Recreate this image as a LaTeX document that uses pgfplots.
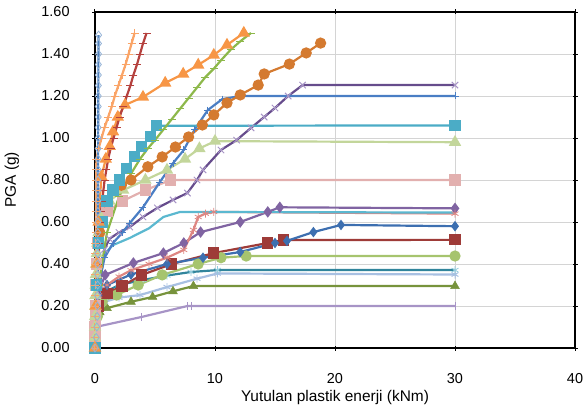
\documentclass[border=0pt]{standalone}
\usepackage{pgfplots}
\pgfplotsset{compat=1.18}
\usepackage{fontspec}
\setmainfont{Liberation Sans}
\usetikzlibrary{plotmarks}
\definecolor{cBlue}{HTML}{4F81BD}
\definecolor{cLBlue}{HTML}{95B3D7}
\definecolor{cLOrange}{HTML}{FAA467}
\definecolor{cDRed}{HTML}{B5413E}
\definecolor{cOrange}{HTML}{F79646}
\definecolor{cGreen}{HTML}{8DB84A}
\definecolor{cAqua}{HTML}{4BACC6}
\definecolor{cDOrange}{HTML}{D47A30}
\definecolor{cBlue2}{HTML}{4A7EC4}
\definecolor{cPurpleD}{HTML}{664C8C}
\definecolor{cLGreen}{HTML}{C3D69B}
\definecolor{cPink}{HTML}{E2B0AF}
\definecolor{cCyan}{HTML}{5BB8D0}
\definecolor{cSalmon}{HTML}{DE8682}
\definecolor{cPurple}{HTML}{8064A2}
\definecolor{cBlueD}{HTML}{3D6FB0}
\definecolor{cRedD}{HTML}{9E3B38}
\definecolor{cGreenL}{HTML}{A6C46E}
\definecolor{cTealD}{HTML}{31859C}
\definecolor{cLBlue2}{HTML}{A8C0E2}
\definecolor{cOlive}{HTML}{77933C}
\definecolor{cLav}{HTML}{A794C6}
\begin{document}
\begin{tikzpicture}
\begin{axis}[name=ax, scale only axis, width=480bp, height=336bp,
  xmin=0, xmax=40, ymin=0, ymax=1.6,
  xtick={0,10,20,30,40}, ytick={0,0.2,0.4,0.6,0.8,1.0,1.2,1.4,1.6},
  grid=major, major grid style={draw=black!17, line width=0.8pt},
  axis line style={line width=1.4pt},
  tick style={black, line width=1pt}, major tick length=5bp, tick align=center,
  yticklabel style={/pgf/number format/fixed, /pgf/number format/fixed zerofill, /pgf/number format/precision=2},
  /pgf/number format/assume math mode=true,
  ticklabel style={font=\fontsize{14.5}{16}\selectfont},
  label style={font=\fontsize{15.5}{17}\selectfont},
  xticklabel style={anchor=center, yshift=-28bp},
  yticklabel style={anchor=center, xshift=-37bp},
  xlabel={Yutulan plastik enerji (kNm)}, ylabel={PGA (g)},
  xlabel style={at={(axis description cs:0.5,0)}, anchor=center, yshift=-50bp},
  ylabel style={at={(axis description cs:-0.173,0.5)}, anchor=center},
  every axis plot/.append style={line width=2.2pt},
]
% lavender |
\addplot[cLav, mark=|, mark size=4bp, mark options={line width=1pt}] coordinates {(0,0)(0.05,0.10)(3.9,0.148)(7.7,0.20)(8.0,0.20)(30,0.20)};
% olive triangles
\addplot[cOlive, mark=triangle*, mark size=5bp, mark options={line width=0.5pt}] coordinates {(0,0)(0.1,0.12)(0.4,0.17)(1.0,0.19)(3.0,0.22)(4.8,0.243)(6.5,0.27)(8.2,0.295)(30,0.295)};
% light blue asterisks
\addplot[cLBlue2, mark=asterisk, mark size=4bp, mark options={line width=1pt}] coordinates {(0,0)(0.2,0.15)(0.8,0.22)(2.0,0.24)(3.75,0.252)(6.0,0.29)(8.5,0.33)(10.2,0.355)(30,0.35)};
% dark teal asterisks
\addplot[cTealD, mark=asterisk, mark size=4bp, mark options={line width=0.8pt,draw=cAqua!60}] coordinates {(0,0)(0.2,0.2)(0.6,0.26)(2.0,0.30)(4.0,0.324)(6.0,0.345)(8.0,0.362)(10.2,0.371)(30,0.371)};
% light green circles
\addplot[cGreenL, mark=*, mark size=4.5bp] coordinates {(0,0)(0.2,0.15)(0.6,0.22)(1.8,0.252)(3.6,0.30)(5.6,0.348)(8.6,0.40)(10.5,0.43)(12.6,0.438)(30,0.438)};
% dark red squares
\addplot[cRedD, mark=square*, mark size=4.5bp] coordinates {(0,0)(0.3,0.2)(1.0,0.26)(2.25,0.295)(3.9,0.348)(6.4,0.40)(9.9,0.452)(14.4,0.50)(15.7,0.514)(30,0.515)};
% dark blue diamonds
\addplot[cBlueD, mark=diamond*, mark size=3.5bp] coordinates {(0,0)(0.3,0.25)(1.0,0.30)(3.0,0.35)(6.0,0.40)(9.0,0.43)(12.1,0.457)(15.0,0.50)(16.0,0.51)(18.2,0.552)(20.5,0.586)(30,0.58)};
% purple diamonds
\addplot[cPurple, mark=diamond*, mark size=4bp] coordinates {(0,0)(0.2,0.25)(0.85,0.348)(3.2,0.405)(5.7,0.452)(7.4,0.50)(8.8,0.552)(12.1,0.60)(14.4,0.648)(15.4,0.67)(30,0.665)};
% salmon asterisks
\addplot[cSalmon, mark=asterisk, mark size=4bp, mark options={line width=0.8pt}] coordinates {(0,0)(0.3,0.25)(1.0,0.30)(2.0,0.34)(3.0,0.37)(4.5,0.40)(6.0,0.43)(7.4,0.467)(8.2,0.562)(8.6,0.624)(9.2,0.64)(9.9,0.648)(30,0.64)};
% cyan no marks
\addplot[cCyan, no markers] coordinates {(0,0)(0.3,0.3)(0.8,0.45)(1.5,0.49)(2.9,0.524)(4.5,0.57)(5.7,0.624)(7.1,0.648)(30,0.645)};
% pink squares
\addplot[cPink, mark=square*, mark size=4.5bp] coordinates {(0,0)(0,0.05)(0,0.1)(0.02,0.15)(0.03,0.2)(0.05,0.3)(0.1,0.4)(0.2,0.5)(0.5,0.6)(1.0,0.65)(2.3,0.70)(4.2,0.752)(6.3,0.80)(30,0.80)};
% light green triangles
\addplot[cLGreen, mark=triangle*, mark size=5bp] coordinates {(0,0)(0,0.05)(0,0.1)(0,0.15)(0.02,0.2)(0.03,0.25)(0.05,0.3)(0.07,0.35)(0.1,0.4)(0.15,0.45)(0.2,0.5)(0.3,0.55)(0.5,0.62)(1.2,0.70)(2.35,0.752)(4.2,0.80)(6.0,0.848)(7.5,0.9)(8.7,0.95)(10.0,0.985)(30,0.98)};
% purple x
\addplot[cPurpleD, mark=x, mark size=4.5bp, mark options={draw=cLav,line width=1pt}] coordinates {(0,0)(0.4,0.3)(0.8,0.47)(1.2,0.52)(2.0,0.55)(2.9,0.576)(4.0,0.624)(5.2,0.667)(6.5,0.705)(7.7,0.738)(8.5,0.80)(9.0,0.848)(10.5,0.943)(11.8,0.99)(13.0,1.048)(14.1,1.10)(15.0,1.143)(16.1,1.20)(17.3,1.252)(30,1.252)};
% blue with dashes
\addplot[cBlue2, mark=+, mark size=3.5bp, mark options={line width=1pt}] coordinates {(0,0)(0.3,0.3)(0.8,0.43)(1.5,0.5)(2.3,0.55)(2.9,0.595)(4.0,0.67)(5.4,0.79)(6.5,0.88)(7.4,0.943)(8.3,1.04)(9.4,1.133)(10.6,1.185)(12.1,1.20)(30,1.20)};
% dark orange circles
\addplot[cDOrange, mark=*, mark size=4.5bp] coordinates {(0,0)(0.2,0.3)(0.4,0.55)(0.8,0.697)(1.5,0.75)(2.2,0.775)(3.0,0.80)(4.4,0.863)(5.6,0.91)(6.7,0.957)(7.8,1.005)(8.95,1.062)(9.9,1.11)(11.0,1.167)(12.1,1.205)(13.6,1.252)(14.1,1.305)(16.2,1.352)(17.6,1.405)(18.8,1.452)};
% aqua squares
\addplot[cAqua, mark=square*, mark size=4.5bp] coordinates {(0,0)(0.1,0.3)(0.3,0.5)(0.6,0.6)(1.0,0.7)(1.5,0.752)(2.06,0.80)(2.6,0.856)(3.3,0.91)(3.9,0.96)(4.6,1.006)(5.1,1.058)(30,1.06)};
% green dashes
\addplot[cGreen, mark=-, mark size=4bp, mark options={line width=1pt}] coordinates {(0,0)(0.3,0.3)(1.0,0.55)(2.0,0.72)(3.0,0.83)(3.75,0.9)(4.4,0.95)(5.0,0.99)(5.7,1.04)(6.4,1.09)(7.1,1.14)(7.8,1.19)(8.5,1.24)(9.2,1.29)(9.9,1.33)(10.5,1.37)(11.3,1.42)(12.1,1.46)(13.0,1.50)};
% orange triangles
\addplot[cOrange, mark=triangle*, mark size=5bp] coordinates {(0,0)(0.05,0.2)(0.15,0.4)(0.3,0.6)(0.53,0.816)(0.9,0.9)(1.23,0.96)(1.5,1.03)(1.9,1.10)(2.5,1.157)(4.0,1.195)(5.85,1.262)(7.35,1.305)(8.6,1.348)(9.9,1.395)(11.0,1.443)(12.4,1.50)};
% dark red dashes
\addplot[cDRed, mark=-, mark size=4bp, mark options={line width=1pt}] coordinates {(0,0)(0.03,0.1)(0.08,0.2)(0.15,0.3)(0.25,0.4)(0.35,0.5)(0.42,0.6)(0.5,0.65)(0.6,0.7)(0.7,0.75)(0.8,0.8)(0.95,0.85)(1.1,0.9)(1.3,0.95)(1.55,1.0)(1.8,1.05)(2.05,1.1)(2.35,1.15)(2.65,1.2)(2.95,1.25)(3.2,1.3)(3.5,1.35)(3.75,1.4)(4.0,1.45)(4.3,1.5)};
% light orange plus
\addplot[cLOrange, mark=+, mark size=4bp, mark options={line width=1pt}] coordinates {(0,0)(0,0.05)(0,0.1)(0.01,0.15)(0.01,0.2)(0.02,0.25)(0.02,0.3)(0.03,0.35)(0.03,0.4)(0.04,0.45)(0.04,0.5)(0.05,0.55)(0.05,0.6)(0.06,0.65)(0.07,0.7)(0.08,0.75)(0.09,0.8)(0.1,0.85)(0.12,0.9)(0.3,0.95)(0.55,1.0)(0.8,1.05)(1.1,1.1)(1.4,1.15)(1.65,1.2)(1.95,1.25)(2.25,1.3)(2.55,1.35)(2.8,1.4)(3.05,1.45)(3.3,1.5)};
% light blue diamonds + blue line
\addplot[cBlue, mark=diamond, mark size=4bp, mark options={draw=cLBlue, line width=0.8pt}] coordinates {(0,0)(0.1,0.05)(0.15,0.1)(0.18,0.15)(0.2,0.2)(0.2,0.25)(0.22,0.3)(0.22,0.35)(0.22,0.4)(0.23,0.45)(0.23,0.5)(0.23,0.55)(0.24,0.6)(0.24,0.65)(0.24,0.7)(0.25,0.75)(0.25,0.8)(0.25,0.85)(0.25,0.9)(0.26,0.95)(0.26,1.0)(0.26,1.05)(0.27,1.1)(0.27,1.15)(0.27,1.2)(0.28,1.25)(0.28,1.3)(0.28,1.35)(0.29,1.4)(0.29,1.45)(0.3,1.49)};
\end{axis}
\pgfresetboundingbox
\path[use as bounding box] ([xshift=-95bp,yshift=-63bp]ax.south west) rectangle ([xshift=11bp,yshift=12bp]ax.north east);
\end{tikzpicture}
\end{document}
